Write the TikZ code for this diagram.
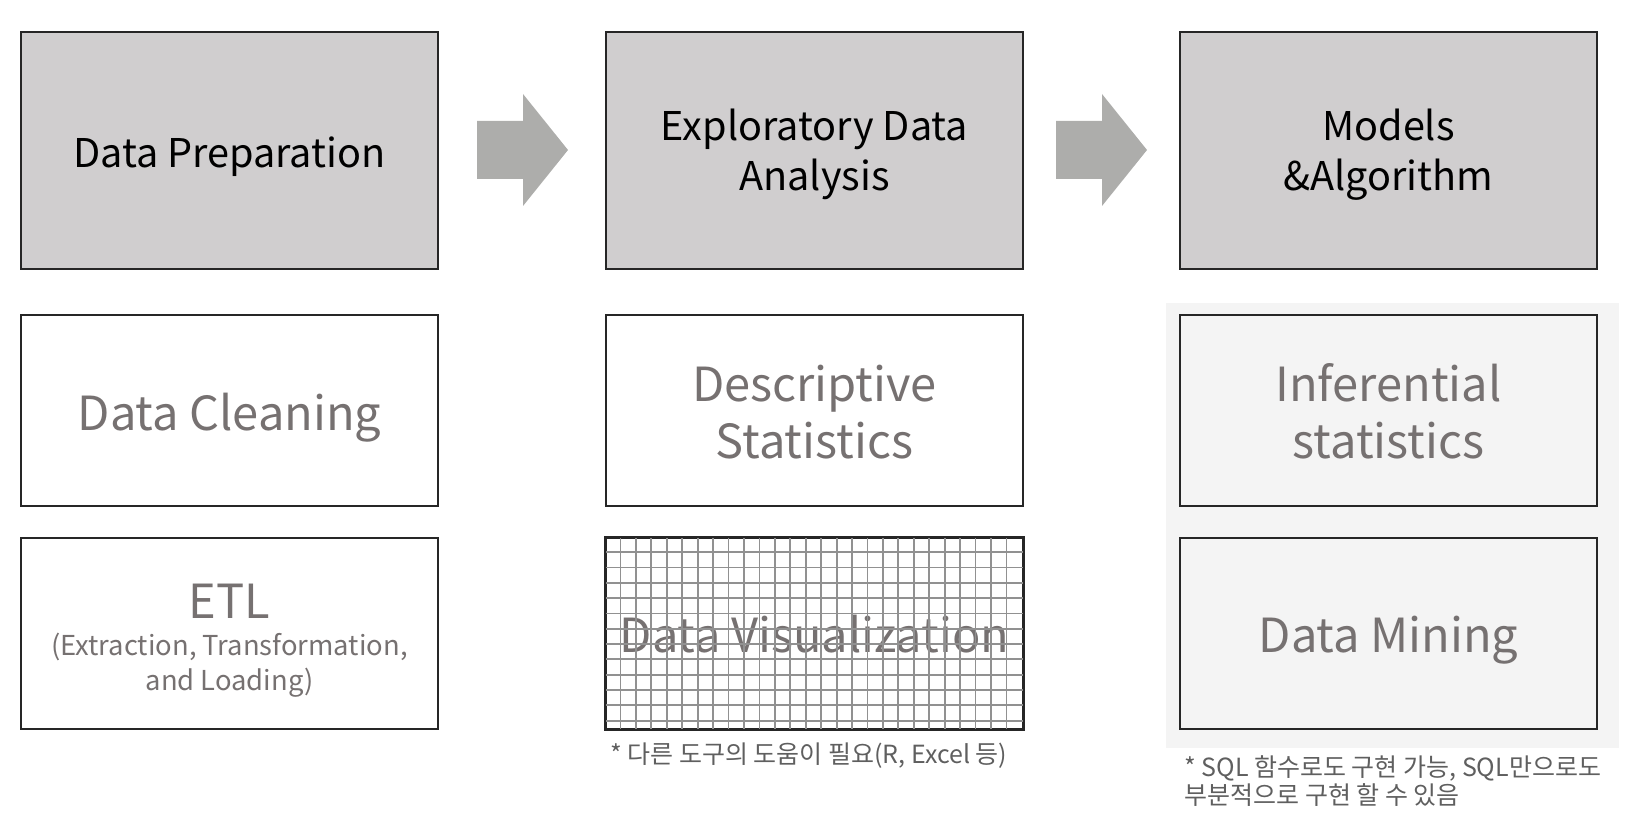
\documentclass[tikz,border=0pt]{standalone}
\usepackage{fontspec}
\setmainfont{Noto Sans CJK KR}
\usepackage{tikz}

\definecolor{headgray}{RGB}{208,206,207}
\definecolor{arrowgray}{RGB}{173,173,171}
\definecolor{panelgray}{RGB}{244,244,244}
\definecolor{textgray}{RGB}{118,113,113}
\definecolor{linegray}{RGB}{145,145,145}
\definecolor{notegray}{RGB}{95,95,95}

\begin{document}
\begin{tikzpicture}[x=0.5pt, y=-0.5pt,
struts/.style 2 args={execute at begin node={\rule{0pt}{#1}}, execute at end node={\rule[-#2]{0pt}{#2}}},
stage/.style={draw=black!85, line width=1pt, fill=headgray, minimum width=208.5pt, minimum height=118.5pt, align=center, struts={22pt}{3.5pt}, font=\fontsize{19.8}{25}\selectfont},
task/.style={draw=black!85, line width=1pt, minimum width=208.5pt, minimum height=95.5pt, align=center, struts={25.5pt}{6pt}, text=textgray, font=\fontsize{23.5}{28.5}\selectfont},
note/.style={text=notegray, align=left, inner sep=0pt, font=\fontsize{12.5}{14}\selectfont},
bigarrow/.style={fill=arrowgray},
gridline/.style={draw=linegray, line width=0.9pt}]
\useasboundingbox (0,0) rectangle (1640,828);

% panel behind the last column
\fill[panelgray] (1166,303) rectangle (1619,748);

% top row
\node[stage] (prep) at (229.5,150.5) {Data Preparation};
\node[stage, struts={45pt}{3.5pt}] (eda) at (814.5,150.5) {Exploratory Data\\Analysis};
\node[stage, struts={45pt}{3.5pt}] (model) at (1388.5,150.5) {Models\\\&Algorithm};

% arrows between the stages
\foreach \ax in {477,1056}
    \fill[bigarrow] (\ax,121) -- ++(46,0) -- ++(0,-27) -- ++(45,56) -- ++(-45,56) -- ++(0,-27) -- ++(-46,0) -- cycle;

% second row
\node[task] (clean) at (229.5,411) {Data Cleaning};
\node[task, struts={54pt}{6pt}] (desc) at (814.5,411) {Descriptive\\Statistics};
\node[task, struts={54pt}{6pt}] (infer) at (1388.5,411) {Inferential\\statistics};

% third row
\node[task, struts={63pt}{3.5pt}, font=\fontsize{13.7}{17.3}\selectfont] (etl) at (229.5,633.5)
    {{\fontsize{23.5}{28}\selectfont ETL}\\[1.3pt](Extraction, Transformation,\\and Loading)};
\node[task] (vis) at (814.5,633.5) {Data Visualization};
\node[task] (mining) at (1388.5,633.5) {Data Mining};

% grid over the visualization box
\foreach \i in {1,...,26}
    \draw[gridline] ([xshift=\i*7.72pt]vis.north west) -- ([xshift=\i*7.72pt]vis.south west);
\foreach \j in {1,...,12}
    \draw[gridline] ([yshift=-\j*7.65pt]vis.north west) -- ([yshift=-\j*7.65pt]vis.north east);
\draw[draw=black!85, line width=1pt] (vis.north west) rectangle (vis.south east);

% notes
\node[note, anchor=west] (visnote) at (610,756) {* 다른 도구의 도움이 필요(R, Excel 등)};
\node[note, anchor=west] (sqlnote) at (1184,781) {* SQL 함수로도 구현 가능, SQL만으로도\\부분적으로 구현 할 수 있음};
\end{tikzpicture}
\end{document}
